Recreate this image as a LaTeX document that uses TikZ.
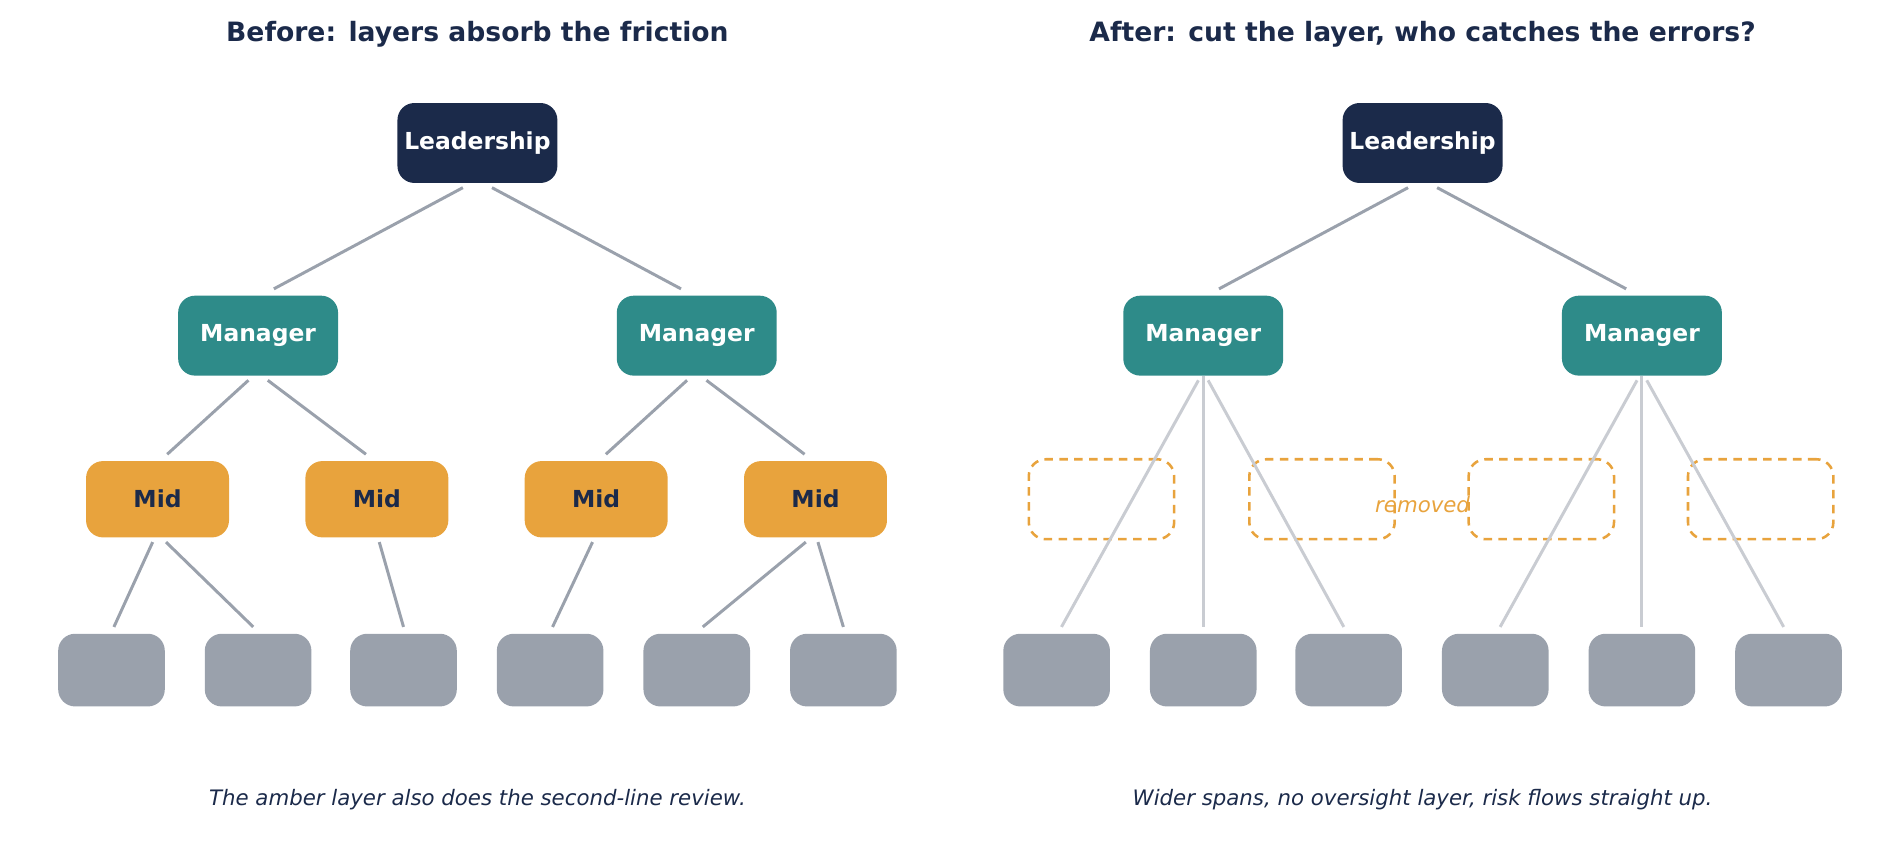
\documentclass[tikz,border=0pt]{standalone}
\usepackage{fontspec}
\setmainfont{DejaVu Sans}
\usepackage{tikz}
\usetikzlibrary{positioning}
\definecolor{navy}{HTML}{1B2A4A}
\definecolor{teal}{HTML}{2E8B89}
\definecolor{amber}{HTML}{E8A33D}
\definecolor{slate}{HTML}{9AA1AC}
\definecolor{pale}{HTML}{C9CCD2}
\tikzset{
  box/.style={rounded corners=0.28cm, inner sep=0pt, font=\bfseries\fontsize{11}{13}\selectfont},
  lead/.style={box, fill=navy, text=white, minimum width=2.64cm, minimum height=1.32cm},
  mgr/.style={box, fill=teal, text=white, minimum width=2.64cm, minimum height=1.32cm},
  mid/.style={box, fill=amber, text=navy, minimum width=2.36cm, minimum height=1.26cm},
  leaf/.style={box, fill=slate, minimum width=1.76cm, minimum height=1.2cm},
  gone/.style={box, draw=amber, dashed, line width=1.2pt, dash pattern=on 4pt off 3pt, minimum width=2.4cm, minimum height=1.32cm},
  link/.style={draw=slate, line width=1.4pt},
  span/.style={draw=pale, line width=1.4pt},
  title/.style={text=navy, font=\bfseries\fontsize{12.5}{15}\selectfont},
  note/.style={text=navy, font=\itshape\fontsize{10}{12}\selectfont}
}
\begin{document}
\begin{tikzpicture}[x=0.02cm, y=-0.02cm]
  \useasboundingbox (0,0) rectangle (1568,710);
  % left tree
  \node[title] (tl) at (394,28) {Before: layers absorb the friction};
  \node[lead] (L) at (394,118) {Leadership};
  \node[mgr] (M1) at (213,277) {Manager};
  \node[mgr] (M2) at (575,277) {Manager};
  \node[mid] (D1) at (130,412) {Mid};
  \node[mid] (D2) at (311,412) {Mid};
  \node[mid] (D3) at (492,412) {Mid};
  \node[mid] (D4) at (673,412) {Mid};
  \foreach \i/\x in {1/92,2/213,3/333,4/454,5/575,6/696}
    \node[leaf] (a\i) at (\x,553) {};
  \draw[link] ([xshift=-0.24cm,yshift=-2pt]L.south) -- ([xshift=0.26cm,yshift=3pt]M1.north);
  \draw[link] ([xshift=0.24cm,yshift=-2pt]L.south) -- ([xshift=-0.26cm,yshift=3pt]M2.north);
  \draw[link] ([xshift=-0.16cm,yshift=-2pt]M1.south) -- ([xshift=0.16cm,yshift=3pt]D1.north);
  \draw[link] ([xshift=0.16cm,yshift=-2pt]M1.south) -- ([xshift=-0.18cm,yshift=3pt]D2.north);
  \draw[link] ([xshift=-0.16cm,yshift=-2pt]M2.south) -- ([xshift=0.16cm,yshift=3pt]D3.north);
  \draw[link] ([xshift=0.16cm,yshift=-2pt]M2.south) -- ([xshift=-0.18cm,yshift=3pt]D4.north);
  \draw[link] ([xshift=-0.08cm,yshift=-2pt]D1.south) -- ([xshift=0.04cm,yshift=3pt]a1.north);
  \draw[link] ([xshift=0.14cm,yshift=-2pt]D1.south) -- ([xshift=-0.08cm,yshift=3pt]a2.north);
  \draw[link] ([xshift=0.04cm,yshift=-2pt]D2.south) -- ([yshift=3pt]a3.north);
  \draw[link] ([xshift=-0.06cm,yshift=-2pt]D3.south) -- ([xshift=0.04cm,yshift=3pt]a4.north);
  \draw[link] ([xshift=-0.16cm,yshift=-2pt]D4.south) -- ([xshift=0.1cm,yshift=3pt]a5.north);
  \draw[link] ([xshift=0.04cm,yshift=-2pt]D4.south) -- ([yshift=3pt]a6.north);
  \node[note] (nl) at (394,660) {The amber layer also does the second-line review.};
  % right tree
  \node[title] (tr) at (1174,28) {After: cut the layer, who catches the errors?};
  \node[lead] (R) at (1174,118) {Leadership};
  \node[mgr] (N1) at (993,277) {Manager};
  \node[mgr] (N2) at (1355,277) {Manager};
  \foreach \i/\x in {1/909,2/1091,3/1272,4/1453}
    \node[gone] (g\i) at (\x,412) {};
  \foreach \i/\x in {1/872,2/993,3/1113,4/1234,5/1355,6/1476}
    \node[leaf] (b\i) at (\x,553) {};
  \node[text=amber, font=\itshape\fontsize{10}{12}\selectfont] (rm) at (1174,416) {removed};
  \draw[link] ([xshift=-0.24cm,yshift=-2pt]R.south) -- ([xshift=0.26cm,yshift=3pt]N1.north);
  \draw[link] ([xshift=0.24cm,yshift=-2pt]R.south) -- ([xshift=-0.26cm,yshift=3pt]N2.north);
  \draw[span] ([xshift=-0.08cm,yshift=-2pt]N1.south) -- ([xshift=0.08cm,yshift=3pt]b1.north);
  \draw[span] (N1.south) -- ([yshift=3pt]b2.north);
  \draw[span] ([xshift=0.08cm,yshift=-2pt]N1.south) -- ([xshift=-0.08cm,yshift=3pt]b3.north);
  \draw[span] ([xshift=-0.08cm,yshift=-2pt]N2.south) -- ([xshift=0.08cm,yshift=3pt]b4.north);
  \draw[span] (N2.south) -- ([yshift=3pt]b5.north);
  \draw[span] ([xshift=0.08cm,yshift=-2pt]N2.south) -- ([xshift=-0.08cm,yshift=3pt]b6.north);
  \node[note] (nr) at (1174,660) {Wider spans, no oversight layer, risk flows straight up.};
\end{tikzpicture}
\end{document}
